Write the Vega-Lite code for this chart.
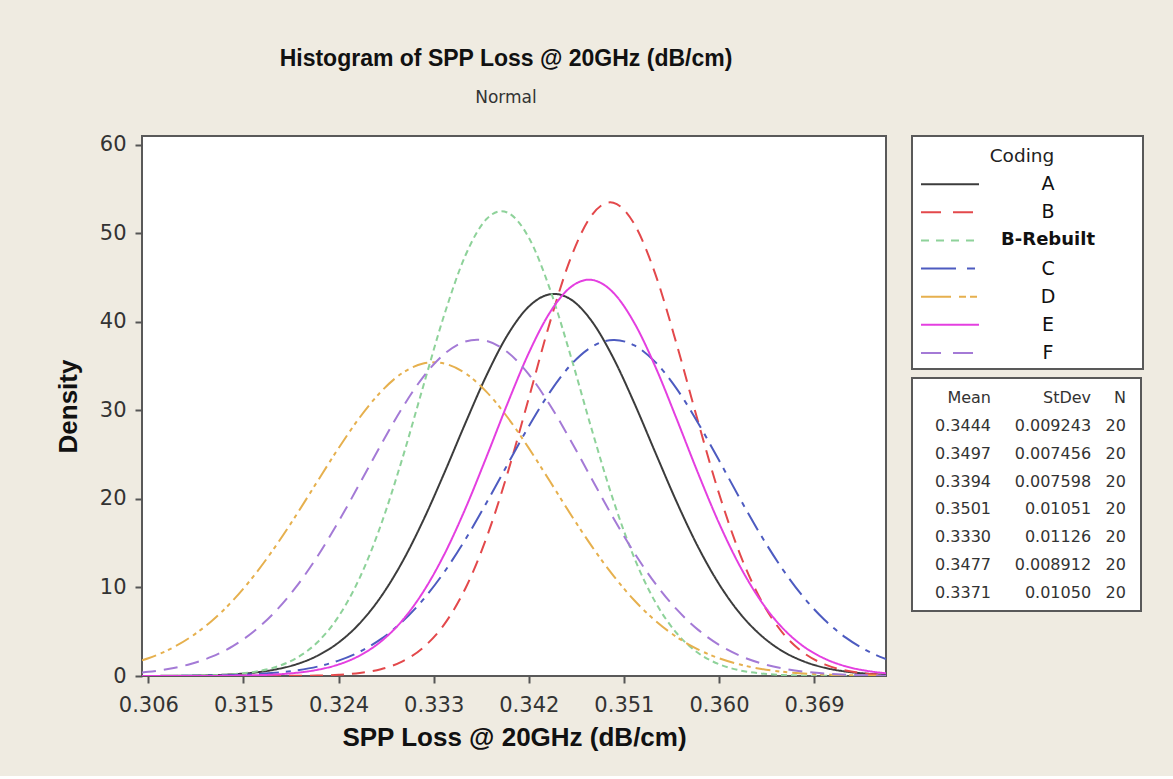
{
  "$schema": "https://vega.github.io/schema/vega-lite/v6.json",
  "background": "#EFEBE1",
  "padding": {"left": 54, "top": 46, "right": 32, "bottom": 25},
  "bounds": "flush",
  "spacing": 26,
  "config": {
    "font": "DejaVu Sans",
    "view": {"fill": "white", "stroke": "#595959", "strokeWidth": 2}
  },
  "resolve": {"scale": {"strokeDash": "independent"}},
  "datasets": {
    "curves": [
      {"Coding":"A","Loss":0.3054,"Density":0.01},{"Coding":"A","Loss":0.306,"Density":0.01},{"Coding":"A","Loss":0.308,"Density":0.02},{"Coding":"A","Loss":0.310,"Density":0.04},{"Coding":"A","Loss":0.312,"Density":0.09},{"Coding":"A","Loss":0.314,"Density":0.19},{"Coding":"A","Loss":0.316,"Density":0.38},{"Coding":"A","Loss":0.318,"Density":0.73},{"Coding":"A","Loss":0.320,"Density":1.32},{"Coding":"A","Loss":0.322,"Density":2.29},{"Coding":"A","Loss":0.324,"Density":3.78},{"Coding":"A","Loss":0.326,"Density":5.95},{"Coding":"A","Loss":0.328,"Density":8.94},{"Coding":"A","Loss":0.330,"Density":12.82},{"Coding":"A","Loss":0.332,"Density":17.55},{"Coding":"A","Loss":0.334,"Density":22.92},{"Coding":"A","Loss":0.336,"Density":28.56},{"Coding":"A","Loss":0.338,"Density":33.96},{"Coding":"A","Loss":0.340,"Density":38.54},{"Coding":"A","Loss":0.342,"Density":41.73},{"Coding":"A","Loss":0.344,"Density":43.12},{"Coding":"A","Loss":0.3444,"Density":43.16},{"Coding":"A","Loss":0.346,"Density":42.52},{"Coding":"A","Loss":0.348,"Density":40.01},{"Coding":"A","Loss":0.350,"Density":35.92},{"Coding":"A","Loss":0.352,"Density":30.78},{"Coding":"A","Loss":0.354,"Density":25.17},{"Coding":"A","Loss":0.356,"Density":19.64},{"Coding":"A","Loss":0.358,"Density":14.62},{"Coding":"A","Loss":0.360,"Density":10.39},{"Coding":"A","Loss":0.362,"Density":7.04},{"Coding":"A","Loss":0.364,"Density":4.56},{"Coding":"A","Loss":0.366,"Density":2.81},{"Coding":"A","Loss":0.368,"Density":1.66},{"Coding":"A","Loss":0.370,"Density":0.93},{"Coding":"A","Loss":0.372,"Density":0.50},{"Coding":"A","Loss":0.374,"Density":0.26},{"Coding":"A","Loss":0.3758,"Density":0.13},
      {"Coding":"B","Loss":0.3054,"Density":0},{"Coding":"B","Loss":0.306,"Density":0},{"Coding":"B","Loss":0.308,"Density":0},{"Coding":"B","Loss":0.310,"Density":0},{"Coding":"B","Loss":0.312,"Density":0},{"Coding":"B","Loss":0.314,"Density":0},{"Coding":"B","Loss":0.316,"Density":0},{"Coding":"B","Loss":0.318,"Density":0.01},{"Coding":"B","Loss":0.320,"Density":0.02},{"Coding":"B","Loss":0.322,"Density":0.05},{"Coding":"B","Loss":0.324,"Density":0.14},{"Coding":"B","Loss":0.326,"Density":0.34},{"Coding":"B","Loss":0.328,"Density":0.77},{"Coding":"B","Loss":0.330,"Density":1.63},{"Coding":"B","Loss":0.332,"Density":3.20},{"Coding":"B","Loss":0.334,"Density":5.83},{"Coding":"B","Loss":0.336,"Density":9.89},{"Coding":"B","Loss":0.338,"Density":15.62},{"Coding":"B","Loss":0.340,"Density":22.95},{"Coding":"B","Loss":0.342,"Density":31.39},{"Coding":"B","Loss":0.344,"Density":39.95},{"Coding":"B","Loss":0.346,"Density":47.31},{"Coding":"B","Loss":0.348,"Density":52.13},{"Coding":"B","Loss":0.3497,"Density":53.51},{"Coding":"B","Loss":0.350,"Density":53.46},{"Coding":"B","Loss":0.352,"Density":51.02},{"Coding":"B","Loss":0.354,"Density":45.31},{"Coding":"B","Loss":0.356,"Density":37.44},{"Coding":"B","Loss":0.358,"Density":28.80},{"Coding":"B","Loss":0.360,"Density":20.61},{"Coding":"B","Loss":0.362,"Density":13.72},{"Coding":"B","Loss":0.364,"Density":8.51},{"Coding":"B","Loss":0.366,"Density":4.90},{"Coding":"B","Loss":0.368,"Density":2.63},{"Coding":"B","Loss":0.370,"Density":1.31},{"Coding":"B","Loss":0.372,"Density":0.61},{"Coding":"B","Loss":0.374,"Density":0.26},{"Coding":"B","Loss":0.3758,"Density":0.12},
      {"Coding":"B-Rebuilt","Loss":0.3054,"Density":0},{"Coding":"B-Rebuilt","Loss":0.306,"Density":0},{"Coding":"B-Rebuilt","Loss":0.308,"Density":0.01},{"Coding":"B-Rebuilt","Loss":0.310,"Density":0.03},{"Coding":"B-Rebuilt","Loss":0.312,"Density":0.08},{"Coding":"B-Rebuilt","Loss":0.314,"Density":0.20},{"Coding":"B-Rebuilt","Loss":0.316,"Density":0.46},{"Coding":"B-Rebuilt","Loss":0.318,"Density":0.99},{"Coding":"B-Rebuilt","Loss":0.320,"Density":2.02},{"Coding":"B-Rebuilt","Loss":0.322,"Density":3.81},{"Coding":"B-Rebuilt","Loss":0.324,"Density":6.73},{"Coding":"B-Rebuilt","Loss":0.326,"Density":11.09},{"Coding":"B-Rebuilt","Loss":0.328,"Density":17.04},{"Coding":"B-Rebuilt","Loss":0.330,"Density":24.43},{"Coding":"B-Rebuilt","Loss":0.332,"Density":32.68},{"Coding":"B-Rebuilt","Loss":0.334,"Density":40.79},{"Coding":"B-Rebuilt","Loss":0.336,"Density":47.50},{"Coding":"B-Rebuilt","Loss":0.338,"Density":51.62},{"Coding":"B-Rebuilt","Loss":0.3394,"Density":52.51},{"Coding":"B-Rebuilt","Loss":0.340,"Density":52.34},{"Coding":"B-Rebuilt","Loss":0.342,"Density":49.52},{"Coding":"B-Rebuilt","Loss":0.344,"Density":43.71},{"Coding":"B-Rebuilt","Loss":0.346,"Density":36.01},{"Coding":"B-Rebuilt","Loss":0.348,"Density":27.67},{"Coding":"B-Rebuilt","Loss":0.350,"Density":19.84},{"Coding":"B-Rebuilt","Loss":0.352,"Density":13.28},{"Coding":"B-Rebuilt","Loss":0.354,"Density":8.29},{"Coding":"B-Rebuilt","Loss":0.356,"Density":4.83},{"Coding":"B-Rebuilt","Loss":0.358,"Density":2.62},{"Coding":"B-Rebuilt","Loss":0.360,"Density":1.33},{"Coding":"B-Rebuilt","Loss":0.362,"Density":0.63},{"Coding":"B-Rebuilt","Loss":0.364,"Density":0.28},{"Coding":"B-Rebuilt","Loss":0.366,"Density":0.11},{"Coding":"B-Rebuilt","Loss":0.368,"Density":0.04},{"Coding":"B-Rebuilt","Loss":0.370,"Density":0.02},{"Coding":"B-Rebuilt","Loss":0.372,"Density":0.01},{"Coding":"B-Rebuilt","Loss":0.374,"Density":0},{"Coding":"B-Rebuilt","Loss":0.3758,"Density":0},
      {"Coding":"C","Loss":0.3054,"Density":0},{"Coding":"C","Loss":0.306,"Density":0.01},{"Coding":"C","Loss":0.308,"Density":0.01},{"Coding":"C","Loss":0.310,"Density":0.03},{"Coding":"C","Loss":0.312,"Density":0.05},{"Coding":"C","Loss":0.314,"Density":0.10},{"Coding":"C","Loss":0.316,"Density":0.20},{"Coding":"C","Loss":0.318,"Density":0.36},{"Coding":"C","Loss":0.320,"Density":0.63},{"Coding":"C","Loss":0.322,"Density":1.06},{"Coding":"C","Loss":0.324,"Density":1.74},{"Coding":"C","Loss":0.326,"Density":2.74},{"Coding":"C","Loss":0.328,"Density":4.16},{"Coding":"C","Loss":0.330,"Density":6.10},{"Coding":"C","Loss":0.332,"Density":8.62},{"Coding":"C","Loss":0.334,"Density":11.74},{"Coding":"C","Loss":0.336,"Density":15.43},{"Coding":"C","Loss":0.338,"Density":19.57},{"Coding":"C","Loss":0.340,"Density":23.92},{"Coding":"C","Loss":0.342,"Density":28.21},{"Coding":"C","Loss":0.344,"Density":32.07},{"Coding":"C","Loss":0.346,"Density":35.18},{"Coding":"C","Loss":0.348,"Density":37.21},{"Coding":"C","Loss":0.350,"Density":37.96},{"Coding":"C","Loss":0.3501,"Density":37.96},{"Coding":"C","Loss":0.352,"Density":37.34},{"Coding":"C","Loss":0.354,"Density":35.43},{"Coding":"C","Loss":0.356,"Density":32.43},{"Coding":"C","Loss":0.358,"Density":28.62},{"Coding":"C","Loss":0.360,"Density":24.36},{"Coding":"C","Loss":0.362,"Density":20.00},{"Coding":"C","Loss":0.364,"Density":15.83},{"Coding":"C","Loss":0.366,"Density":12.09},{"Coding":"C","Loss":0.368,"Density":8.90},{"Coding":"C","Loss":0.370,"Density":6.32},{"Coding":"C","Loss":0.372,"Density":4.33},{"Coding":"C","Loss":0.374,"Density":2.86},{"Coding":"C","Loss":0.3758,"Density":1.91},
      {"Coding":"D","Loss":0.3054,"Density":1.76},{"Coding":"D","Loss":0.306,"Density":2.00},{"Coding":"D","Loss":0.308,"Density":3.01},{"Coding":"D","Loss":0.310,"Density":4.40},{"Coding":"D","Loss":0.312,"Density":6.22},{"Coding":"D","Loss":0.314,"Density":8.53},{"Coding":"D","Loss":0.316,"Density":11.34},{"Coding":"D","Loss":0.318,"Density":14.59},{"Coding":"D","Loss":0.320,"Density":18.19},{"Coding":"D","Loss":0.322,"Density":21.99},{"Coding":"D","Loss":0.324,"Density":25.74},{"Coding":"D","Loss":0.326,"Density":29.20},{"Coding":"D","Loss":0.328,"Density":32.10},{"Coding":"D","Loss":0.330,"Density":34.20},{"Coding":"D","Loss":0.332,"Density":35.29},{"Coding":"D","Loss":0.333,"Density":35.43},{"Coding":"D","Loss":0.334,"Density":35.29},{"Coding":"D","Loss":0.336,"Density":34.20},{"Coding":"D","Loss":0.338,"Density":32.10},{"Coding":"D","Loss":0.340,"Density":29.20},{"Coding":"D","Loss":0.342,"Density":25.74},{"Coding":"D","Loss":0.344,"Density":21.99},{"Coding":"D","Loss":0.346,"Density":18.19},{"Coding":"D","Loss":0.348,"Density":14.59},{"Coding":"D","Loss":0.350,"Density":11.34},{"Coding":"D","Loss":0.352,"Density":8.53},{"Coding":"D","Loss":0.354,"Density":6.22},{"Coding":"D","Loss":0.356,"Density":4.40},{"Coding":"D","Loss":0.358,"Density":3.01},{"Coding":"D","Loss":0.360,"Density":2.00},{"Coding":"D","Loss":0.362,"Density":1.29},{"Coding":"D","Loss":0.364,"Density":0.80},{"Coding":"D","Loss":0.366,"Density":0.48},{"Coding":"D","Loss":0.368,"Density":0.28},{"Coding":"D","Loss":0.370,"Density":0.16},{"Coding":"D","Loss":0.372,"Density":0.09},{"Coding":"D","Loss":0.374,"Density":0.05},{"Coding":"D","Loss":0.3758,"Density":0.03},
      {"Coding":"E","Loss":0.3054,"Density":0},{"Coding":"E","Loss":0.306,"Density":0},{"Coding":"E","Loss":0.308,"Density":0},{"Coding":"E","Loss":0.310,"Density":0.01},{"Coding":"E","Loss":0.312,"Density":0.01},{"Coding":"E","Loss":0.314,"Density":0.04},{"Coding":"E","Loss":0.316,"Density":0.08},{"Coding":"E","Loss":0.318,"Density":0.17},{"Coding":"E","Loss":0.320,"Density":0.36},{"Coding":"E","Loss":0.322,"Density":0.70},{"Coding":"E","Loss":0.324,"Density":1.30},{"Coding":"E","Loss":0.326,"Density":2.31},{"Coding":"E","Loss":0.328,"Density":3.89},{"Coding":"E","Loss":0.330,"Density":6.23},{"Coding":"E","Loss":0.332,"Density":9.49},{"Coding":"E","Loss":0.334,"Density":13.73},{"Coding":"E","Loss":0.336,"Density":18.91},{"Coding":"E","Loss":0.338,"Density":24.76},{"Coding":"E","Loss":0.340,"Density":30.82},{"Coding":"E","Loss":0.342,"Density":36.49},{"Coding":"E","Loss":0.344,"Density":41.07},{"Coding":"E","Loss":0.346,"Density":43.96},{"Coding":"E","Loss":0.3477,"Density":44.77},{"Coding":"E","Loss":0.348,"Density":44.74},{"Coding":"E","Loss":0.350,"Density":43.30},{"Coding":"E","Loss":0.352,"Density":39.85},{"Coding":"E","Loss":0.354,"Density":34.87},{"Coding":"E","Loss":0.356,"Density":29.01},{"Coding":"E","Loss":0.358,"Density":22.96},{"Coding":"E","Loss":0.360,"Density":17.27},{"Coding":"E","Loss":0.362,"Density":12.36},{"Coding":"E","Loss":0.364,"Density":8.41},{"Coding":"E","Loss":0.366,"Density":5.44},{"Coding":"E","Loss":0.368,"Density":3.34},{"Coding":"E","Loss":0.370,"Density":1.96},{"Coding":"E","Loss":0.372,"Density":1.09},{"Coding":"E","Loss":0.374,"Density":0.58},{"Coding":"E","Loss":0.3758,"Density":0.31},
      {"Coding":"F","Loss":0.3054,"Density":0.40},{"Coding":"F","Loss":0.306,"Density":0.47},{"Coding":"F","Loss":0.308,"Density":0.82},{"Coding":"F","Loss":0.310,"Density":1.36},{"Coding":"F","Loss":0.312,"Density":2.18},{"Coding":"F","Loss":0.314,"Density":3.38},{"Coding":"F","Loss":0.316,"Density":5.05},{"Coding":"F","Loss":0.318,"Density":7.27},{"Coding":"F","Loss":0.320,"Density":10.09},{"Coding":"F","Loss":0.322,"Density":13.51},{"Coding":"F","Loss":0.324,"Density":17.45},{"Coding":"F","Loss":0.326,"Density":21.73},{"Coding":"F","Loss":0.328,"Density":26.10},{"Coding":"F","Loss":0.330,"Density":30.23},{"Coding":"F","Loss":0.332,"Density":33.77},{"Coding":"F","Loss":0.334,"Density":36.37},{"Coding":"F","Loss":0.336,"Density":37.79},{"Coding":"F","Loss":0.3371,"Density":37.99},{"Coding":"F","Loss":0.338,"Density":37.86},{"Coding":"F","Loss":0.340,"Density":36.57},{"Coding":"F","Loss":0.342,"Density":34.08},{"Coding":"F","Loss":0.344,"Density":30.62},{"Coding":"F","Loss":0.346,"Density":26.53},{"Coding":"F","Loss":0.348,"Density":22.17},{"Coding":"F","Loss":0.350,"Density":17.86},{"Coding":"F","Loss":0.352,"Density":13.88},{"Coding":"F","Loss":0.354,"Density":10.40},{"Coding":"F","Loss":0.356,"Density":7.52},{"Coding":"F","Loss":0.358,"Density":5.24},{"Coding":"F","Loss":0.360,"Density":3.52},{"Coding":"F","Loss":0.362,"Density":2.28},{"Coding":"F","Loss":0.364,"Density":1.43},{"Coding":"F","Loss":0.366,"Density":0.86},{"Coding":"F","Loss":0.368,"Density":0.50},{"Coding":"F","Loss":0.370,"Density":0.28},{"Coding":"F","Loss":0.372,"Density":0.15},{"Coding":"F","Loss":0.374,"Density":0.08},{"Coding":"F","Loss":0.3758,"Density":0.04}
    ],
    "stats": [
      {"Coding":"A","Mean":0.3444,"StDev":0.009243,"N":20},
      {"Coding":"B","Mean":0.3497,"StDev":0.007456,"N":20},
      {"Coding":"B-Rebuilt","Mean":0.3394,"StDev":0.007598,"N":20},
      {"Coding":"C","Mean":0.3501,"StDev":0.01051,"N":20},
      {"Coding":"D","Mean":0.3330,"StDev":0.01126,"N":20},
      {"Coding":"E","Mean":0.3477,"StDev":0.008912,"N":20},
      {"Coding":"F","Mean":0.3371,"StDev":0.01050,"N":20}
    ]
  },
  "hconcat": [
    {
      "width": 744,
      "height": 540,
      "title": {
        "text": "Histogram of SPP Loss @ 20GHz (dB/cm)",
        "subtitle": "Normal",
        "anchor": "middle",
        "font": "Liberation Sans",
        "fontSize": 23,
        "fontWeight": "bold",
        "color": "#111111",
        "subtitleFont": "DejaVu Sans",
        "subtitleFontSize": 17,
        "subtitleColor": "#333333",
        "subtitlePadding": 19,
        "offset": 28,
        "dx": -8
      },
      "data": {"name": "curves"},
      "mark": {"type": "line", "interpolate": "monotone", "strokeWidth": 2, "clip": true},
      "encoding": {
        "x": {
          "field": "Loss", "type": "quantitative",
          "scale": {"domain": [0.3054, 0.3758], "nice": false, "zero": false},
          "axis": {
            "title": "SPP Loss @ 20GHz (dB/cm)",
            "values": [0.306, 0.315, 0.324, 0.333, 0.342, 0.351, 0.360, 0.369],
            "format": ".3f", "domain": false, "grid": false,
            "tickSize": 7, "tickColor": "#555555", "tickWidth": 2,
            "labelFont": "DejaVu Sans", "labelFontSize": 21, "labelColor": "#333333", "labelPadding": 11, "labelFlush": false,
            "titleFont": "Liberation Sans", "titleFontSize": 26, "titleFontWeight": "bold", "titleColor": "#111111", "titlePadding": 9
          }
        },
        "y": {
          "field": "Density", "type": "quantitative",
          "scale": {"domain": [0, 61], "nice": false},
          "axis": {
            "title": "Density",
            "values": [0, 10, 20, 30, 40, 50, 60],
            "domain": false, "grid": false,
            "tickSize": 7, "tickColor": "#555555", "tickWidth": 2,
            "labelFont": "DejaVu Sans", "labelFontSize": 21, "labelColor": "#333333", "labelPadding": 9, "labelFlush": false,
            "titleFont": "Liberation Sans", "titleFontSize": 26, "titleFontWeight": "bold", "titleColor": "#111111", "titlePadding": 18
          }
        },
        "color": {
          "field": "Coding", "type": "nominal",
          "scale": {"domain": ["A", "B", "B-Rebuilt", "C", "D", "E", "F"], "range": ["#3C3C3C", "#E3484B", "#8ED29A", "#4D5BC0", "#E6B04E", "#E43FE0", "#A47AD6"]},
          "legend": null
        },
        "strokeDash": {
          "field": "Coding", "type": "nominal",
          "scale": {"domain": ["A", "B", "B-Rebuilt", "C", "D", "E", "F"], "range": [[1, 0], [13, 8], [6, 4], [20, 7, 5, 7], [15, 5, 4, 4, 4, 5], [1, 0], [14, 8]]},
          "legend": null
        }
      }
    },
    {
      "vconcat": [
        {
          "width": 231,
          "height": 233,
          "data": {"name": "stats"},
          "encoding": {
            "y": {
              "field": "Coding", "type": "nominal",
              "scale": {"type": "point", "domain": ["Coding", "A", "B", "B-Rebuilt", "C", "D", "E", "F"], "padding": 0.64, "align": 0.556},
              "axis": null
            }
          },
          "layer": [
            {
              "mark": {"type": "rule", "strokeWidth": 2},
              "encoding": {
                "x": {"datum": 0.039, "type": "quantitative", "scale": {"domain": [0, 1], "nice": false, "zero": false}, "axis": null},
                "x2": {"datum": 0.29},
                "color": {
                  "field": "Coding", "type": "nominal",
                  "scale": {"domain": ["A", "B", "B-Rebuilt", "C", "D", "E", "F"], "range": ["#3C3C3C", "#E3484B", "#8ED29A", "#4D5BC0", "#E6B04E", "#E43FE0", "#A47AD6"]},
                  "legend": null
                },
                "strokeDash": {
                  "field": "Coding", "type": "nominal",
                  "scale": {"domain": ["A", "B", "B-Rebuilt", "C", "D", "E", "F"], "range": [[1, 0], [20, 12], [8, 7], [35, 11, 8, 11], [30, 8, 7, 4, 7, 8], [1, 0], [20, 12]]},
                  "legend": null
                }
              }
            },
            {
              "transform": [{"filter": "datum.Coding !== 'B-Rebuilt'"}],
              "mark": {"type": "text", "fontSize": 19, "color": "#111111"},
              "encoding": {
                "x": {"datum": 0.589, "type": "quantitative", "axis": null},
                "text": {"field": "Coding"}
              }
            },
            {
              "transform": [{"filter": "datum.Coding === 'B-Rebuilt'"}],
              "mark": {"type": "text", "fontSize": 18, "fontWeight": "bold", "color": "#111111"},
              "encoding": {
                "x": {"datum": 0.589, "type": "quantitative", "axis": null},
                "text": {"field": "Coding"}
              }
            },
            {
              "data": {"values": [{}]},
              "mark": {"type": "text", "fontSize": 18.5, "color": "#222222"},
              "encoding": {
                "x": {"datum": 0.476, "type": "quantitative", "axis": null},
                "y": {"datum": "Coding", "type": "nominal", "axis": null},
                "text": {"value": "Coding"}
              }
            }
          ]
        },
        {
          "width": 229,
          "height": 233,
          "data": {"name": "stats"},
          "encoding": {
            "y": {
              "field": "Coding", "type": "nominal",
              "scale": {"type": "point", "domain": ["Coding", "A", "B", "B-Rebuilt", "C", "D", "E", "F"], "padding": 0.68, "align": 0.526},
              "axis": null
            }
          },
          "layer": [
            {
              "mark": {"type": "text", "align": "right", "fontSize": 16, "color": "#333333"},
              "encoding": {
                "x": {"datum": 0.345, "type": "quantitative", "scale": {"domain": [0, 1], "nice": false, "zero": false}, "axis": null},
                "text": {"field": "Mean", "type": "quantitative", "format": ".4r"}
              }
            },
            {
              "mark": {"type": "text", "align": "right", "fontSize": 16, "color": "#333333"},
              "encoding": {
                "x": {"datum": 0.782, "type": "quantitative", "axis": null},
                "text": {"field": "StDev", "type": "quantitative", "format": ".4r"}
              }
            },
            {
              "mark": {"type": "text", "align": "right", "fontSize": 16, "color": "#333333"},
              "encoding": {
                "x": {"datum": 0.934, "type": "quantitative", "axis": null},
                "text": {"field": "N", "type": "quantitative"}
              }
            },
            {
              "data": {"values": [{}]},
              "mark": {"type": "text", "align": "right", "fontSize": 16, "color": "#333333"},
              "encoding": {
                "x": {"datum": 0.345, "type": "quantitative", "axis": null},
                "y": {"datum": "Coding", "type": "nominal", "axis": null},
                "text": {"value": "Mean"}
              }
            },
            {
              "data": {"values": [{}]},
              "mark": {"type": "text", "align": "right", "fontSize": 16, "color": "#333333"},
              "encoding": {
                "x": {"datum": 0.782, "type": "quantitative", "axis": null},
                "y": {"datum": "Coding", "type": "nominal", "axis": null},
                "text": {"value": "StDev"}
              }
            },
            {
              "data": {"values": [{}]},
              "mark": {"type": "text", "align": "right", "fontSize": 16, "color": "#333333"},
              "encoding": {
                "x": {"datum": 0.934, "type": "quantitative", "axis": null},
                "y": {"datum": "Coding", "type": "nominal", "axis": null},
                "text": {"value": "N"}
              }
            }
          ]
        }
      ],
      "spacing": 9,
      "bounds": "flush"
    }
  ]
}
